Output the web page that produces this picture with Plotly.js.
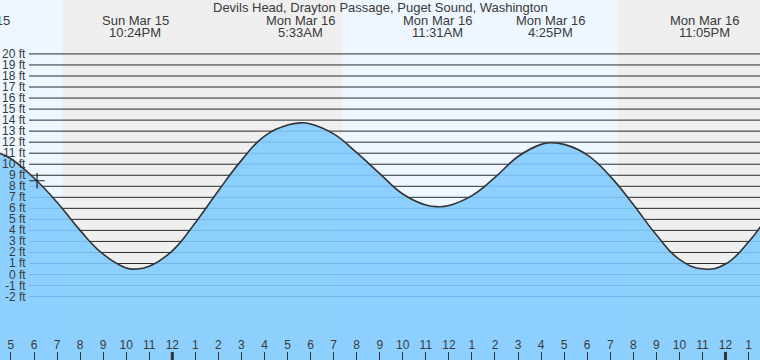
<!DOCTYPE html>
<html><head><meta charset="utf-8">
<script src="https://cdn.plot.ly/plotly-3.0.1.min.js"></script>
<style>html,body{margin:0;padding:0;background:#fff}#chart{width:760px;height:360px}</style>
</head><body><div id="chart"></div>
<script>
// Tide curve (time, feet)
const times = [
  '2026-03-15 16:30','2026-03-15 17:00','2026-03-15 18:00','2026-03-15 19:00','2026-03-15 20:00',
  '2026-03-15 21:00','2026-03-15 22:00','2026-03-15 22:24','2026-03-15 23:00','2026-03-16 00:00',
  '2026-03-16 01:00','2026-03-16 02:00','2026-03-16 03:00','2026-03-16 04:00','2026-03-16 05:00',
  '2026-03-16 05:33','2026-03-16 06:00','2026-03-16 07:00','2026-03-16 08:00','2026-03-16 09:00',
  '2026-03-16 10:00','2026-03-16 11:00','2026-03-16 11:31','2026-03-16 12:00','2026-03-16 13:00',
  '2026-03-16 14:00','2026-03-16 15:00','2026-03-16 16:00','2026-03-16 16:25','2026-03-16 17:00',
  '2026-03-16 18:00','2026-03-16 19:00','2026-03-16 20:00','2026-03-16 21:00','2026-03-16 22:00',
  '2026-03-16 23:05','2026-03-17 00:00','2026-03-17 01:00','2026-03-17 01:31'
];
const heights = [
  11.0, 10.5, 8.75, 6.55, 4.0,
  1.85, 0.6, 0.5, 0.75, 2.15,
  4.7, 7.6, 10.35, 12.55, 13.55,
  13.75, 13.65, 12.75, 11.05, 9.15,
  7.3, 6.3, 6.15, 6.25, 7.15,
  8.8, 10.7, 11.8, 11.95, 11.8,
  10.85, 8.9, 6.35, 3.6, 1.38,
  0.5, 0.95, 2.95, 4.33
];
// High / low labels
const extremeTimes = ['2026-03-15 15:30','2026-03-15 22:24','2026-03-16 05:33','2026-03-16 11:31','2026-03-16 16:25','2026-03-16 23:05'];
const extremeDays  = ['Sun Mar 15','Sun Mar 15','Mon Mar 16','Mon Mar 16','Mon Mar 16','Mon Mar 16'];
const extremeClock = ['3:30PM','10:24PM','5:33AM','11:31AM','4:25PM','11:05PM'];
// Night periods (sunset -> sunrise)
const nightStarts = ['2026-03-15 19:15','2026-03-16 19:18'];
const nightEnds   = ['2026-03-16 07:22','2026-03-17 07:20'];
// Current time marker
const nowTime = ['2026-03-15 18:08'];
const nowHeight = [8.5];
// Axis ticks
const yTicks = [-2,-1,0,1,2,3,4,5,6,7,8,9,10,11,12,13,14,15,16,17,18,19,20];
const midnights = ['2026-03-16 00:00','2026-03-17 00:00'];
const title = 'Devils Head, Drayton Passage, Puget Sound, Washington';

const xRange = ['2026-03-15 16:31:30','2026-03-17 01:29:50'];
const yRange = [-7.75, 24.89];

const ms = s => Date.parse(s.replace(' ','T') + (s.length === 16 ? ':00' : '') + 'Z');
const r0 = ms(xRange[0]), r1 = ms(xRange[1]);

const textColor = '#3a3a3a';
const FONT = 'Liberation Sans, Arial, sans-serif';
const shapes = [];
nightStarts.forEach((s,i) => shapes.push({
  type:'rect', layer:'below', xref:'x', yref:'paper', x0:s, x1:nightEnds[i], y0:0, y1:1,
  fillcolor:'#efefef', line:{width:0}
}));
yTicks.forEach(v => shapes.push({
  type:'line', layer:'below', xref:'paper', yref:'y', x0:29/760, x1:1, y0:v, y1:v,
  line:{color:'#2a2a2a', width:1}
}));
midnights.forEach(m => shapes.push({
  type:'line', layer:'above', xref:'x', yref:'paper', x0:m, x1:m, y0:0, y1:8/360,
  line:{color:'#333', width:3}
}));

const annotations = [];
annotations.push({xref:'paper', yref:'paper', x:0.5, y:1-7.5/360, xanchor:'center', yanchor:'middle',
  text:title, showarrow:false, font:{family:FONT, size:13, color:textColor}});
extremeTimes.forEach((t,i) => {
  const tm = ms(t);
  const inRange = tm >= r0 && tm <= r1;
  const base = inRange ? {xref:'x', x:t} : {xref:'paper', x:(tm - r0)/(r1 - r0)};
  annotations.push(Object.assign({}, base, {yref:'paper', y:1-20/360, xanchor:'center', yanchor:'middle',
    text:extremeDays[i], showarrow:false, font:{family:FONT, size:13, color:textColor}}));
  annotations.push(Object.assign({}, base, {yref:'paper', y:1-32.5/360, xanchor:'center', yanchor:'middle',
    text:extremeClock[i], showarrow:false, font:{family:FONT, size:13, color:textColor}}));
});
yTicks.forEach(v => annotations.push({xref:'paper', yref:'y', x:27.5/760, y:v, xanchor:'right', yanchor:'middle',
  text:v + ' ft', showarrow:false, font:{family:FONT, size:12, color:textColor}}));

const traces = [
  {x:[times[0], times[times.length-1]], y:[yRange[0]-1, yRange[0]-1], mode:'lines', line:{width:0}, hoverinfo:'skip', showlegend:false},
  {x:times, y:heights, mode:'lines', line:{color:'#333', width:1.6, shape:'spline', smoothing:1.3},
   fill:'tonexty', fillcolor:'rgba(128,203,255,0.88)', showlegend:false},
  {x:nowTime, y:nowHeight, mode:'markers', marker:{symbol:'cross-thin', size:11, line:{color:'#222', width:1.2}}, showlegend:false}
];

const layout = {
  width:760, height:360, margin:{l:0,r:0,t:0,b:0},
  paper_bgcolor:'#ffffff', plot_bgcolor:'#eef7ff',
  showlegend:false,
  xaxis:{type:'date', range:xRange, showgrid:false, zeroline:false, showline:false,
    tickmode:'linear', tick0:'2026-03-15 17:00', dtick:3600000, tickformat:'%-I',
    ticks:'inside', ticklen:8, tickwidth:1, tickcolor:'#333', ticklabelposition:'inside',
    tickfont:{family:FONT, size:12, color:textColor}},
  yaxis:{range:yRange, showgrid:false, zeroline:false, showticklabels:false, ticks:'', showline:false},
  shapes:shapes, annotations:annotations
};
Plotly.newPlot('chart', traces, layout, {staticPlot:true, displayModeBar:false});
</script></body></html>
